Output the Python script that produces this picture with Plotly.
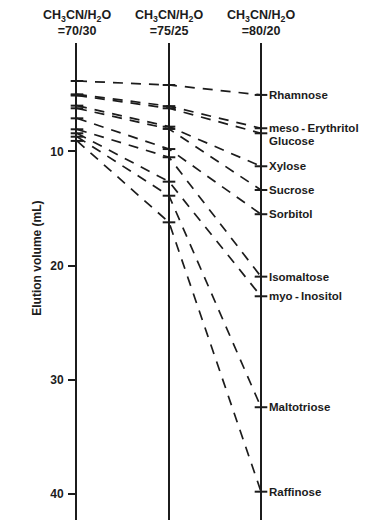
import plotly.graph_objects as go

# ---- data ----
conditions = ["CH<sub>3</sub>CN/H<sub>2</sub>O<br>=70/30",
              "CH<sub>3</sub>CN/H<sub>2</sub>O<br>=75/25",
              "CH<sub>3</sub>CN/H<sub>2</sub>O<br>=80/20"]
compounds = ["Rhamnose", "meso\u2009-\u2009Erythritol", "Glucose", "Xylose", "Sucrose",
             "Sorbitol", "Isomaltose", "myo\u2009-\u2009Inositol", "Maltotriose", "Raffinose"]
elution_70 = [3.83, 5.00, 5.10, 5.99, 6.22, 7.10, 8.06, 8.41, 8.71, 9.08]
elution_75 = [4.18, 6.03, 6.22, 7.83, 8.03, 9.79, 10.51, 12.65, 13.88, 16.21]
elution_80 = [5.05, 7.97, 8.41, 11.30, 13.38, 15.50, 20.97, 22.69, 32.41, 39.81]
y_ticks = [10, 20, 30, 40]

INK = "#1c1c1c"
FONT = "Arial, Liberation Sans, sans-serif"
x_pos = [0, 1, 2]
label_yshift = {"Glucose": -8}

fig = go.Figure()

# vertical axes for the middle and right conditions
for xp in x_pos[1:]:
    fig.add_shape(type="line", xref="x", yref="paper", x0=xp, x1=xp, y0=0, y1=1,
                  line=dict(color=INK, width=2))

# dashed connections
for i, name in enumerate(compounds):
    vals = [elution_70[i], elution_75[i], elution_80[i]]
    fig.add_trace(go.Scatter(
        x=x_pos, y=vals, mode="lines",
        line=dict(color=INK, width=1.7, dash="10px,8px"),
        hoverinfo="skip", showlegend=False))

# tick marks on each axis
for xp, vals in zip(x_pos, [elution_70, elution_75, elution_80]):
    fig.add_trace(go.Scatter(
        x=[xp] * len(vals), y=vals, mode="markers",
        marker=dict(symbol="line-ew", size=9, line=dict(color=INK, width=2)),
        hoverinfo="skip", showlegend=False, cliponaxis=False))

# compound labels on the right axis
for name, v in zip(compounds, elution_80):
    fig.add_annotation(x=2, y=v, xref="x", yref="y", text=name, showarrow=False,
                       xanchor="left", yanchor="middle", xshift=6,
                       yshift=label_yshift.get(name, 0),
                       font=dict(family=FONT, size=11.5, color=INK, weight="bold"))

# column headers
for xp, txt in zip(x_pos, conditions):
    fig.add_annotation(x=xp, y=1, xref="x", yref="paper", text=txt, showarrow=False,
                       xanchor="center", yanchor="bottom", yshift=3,
                       font=dict(family=FONT, size=12.5, color=INK, weight="bold"))

# y-axis title
fig.add_annotation(x=0, y=19.4, xref="paper", yref="y", text="Elution volume (mL)",
                   showarrow=False, textangle=-90, xanchor="center", yanchor="middle",
                   xshift=-40, font=dict(family=FONT, size=12, color=INK, weight="bold"))

fig.update_layout(
    width=361, height=516,
    margin=dict(l=69, r=16, t=35, b=4),
    paper_bgcolor="white", plot_bgcolor="white",
    showlegend=False,
    xaxis=dict(range=[0, 3.0], visible=False, fixedrange=True),
    yaxis=dict(range=[42.29, 0.5], tickvals=y_ticks, ticks="outside", ticklen=7,
               tickwidth=2, tickcolor=INK, showline=True, linecolor=INK, linewidth=2,
               showgrid=False, zeroline=False, ticklabelstandoff=2,
               tickfont=dict(family=FONT, size=12, color=INK, weight="bold")),
)

fig.write_html("out.html")
